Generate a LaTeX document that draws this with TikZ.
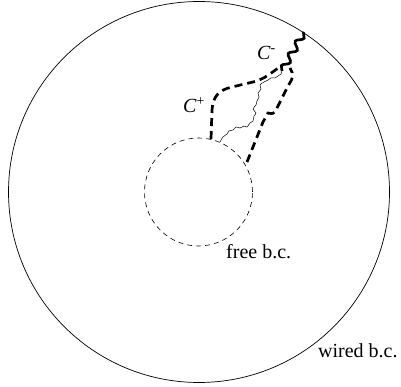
\documentclass[tikz,border=0pt]{standalone}
\usepackage{fontspec}
\setmainfont{Liberation Serif}
\usetikzlibrary{decorations.pathmorphing}
\begin{document}
\begin{tikzpicture}[x=1pt,y=-1pt,
  outer/.style={line width=0.7pt},
  freebc/.style={line width=0.6pt, dash pattern=on 5pt off 4pt},
  cluster/.style={line width=2.7pt, dash pattern=on 8pt off 5pt},
  interface/.style={line width=0.5pt},
  thickwave/.style={line width=2.7pt, decorate, decoration={snake,amplitude=3.2pt,segment length=14pt}},
  lbl/.style={font=\fontsize{20}{24}\selectfont, inner sep=0pt, anchor=base west}]
\useasboundingbox (0,0) rectangle (401,387);
% outer domain (wired b.c.)
\draw[outer] (199,192) circle[radius=190.5pt];
% inner domain (free b.c.)
\draw[freebc] (198.5,192) circle[radius=54pt];
% C+ dashed cluster boundary
\draw[cluster] (211,139) -- (212,110) .. controls (213,96) and (219,90) .. (232,87) -- (253,82) .. controls (263,79) .. (281,66);
% right dashed boundary
\draw[cluster] (247,162) -- (263,122) -- (268,113) .. controls (273,114) .. (276,110) -- (288,86) .. controls (294,76) .. (290,68);
% thin interface
\draw[interface] plot[smooth, tension=0.6] coordinates {(220,142) (223,137) (227,134) (229,131) (233,130) (236,127) (240,128) (244,126) (247,127) (250,123) (253,121) (254,116) (256,113) (253,109) (256,105) (257,101) (259,97) (258,93) (261,89) (260,85) (264,82) (268,80) (271,78) (275,78) (278,76) (281,74) (282,70)};
% C- thick wavy
\draw[thickwave] (282,71) -- (304,32);
% labels
\node[lbl] (cplus) at (183,113) {\textit{C}\textsuperscript{+}};
\node[lbl] (cminus) at (257,60) {\textit{C}\textsuperscript{-}};
\node[lbl] (free) at (226,258) {free b.c.};
\node[lbl] (wired) at (318,357) {wired b.c.};
\end{tikzpicture}
\end{document}
